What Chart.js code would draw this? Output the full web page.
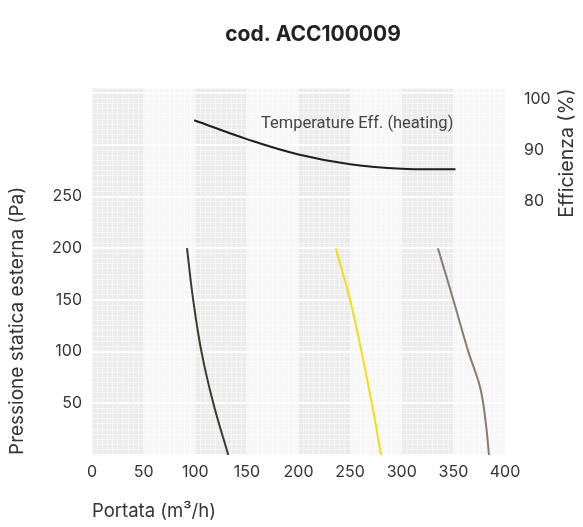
<!DOCTYPE html>
<html>
<head>
<meta charset="utf-8">
<script src="https://cdn.jsdelivr.net/npm/chart.js@4.4.1/dist/chart.umd.min.js"></script>
<style>
  html, body { margin: 0; padding: 0; background: #fff; }
  #wrap { width: 583px; height: 527px; }
</style>
</head>
<body>
<div id="wrap"><canvas id="myChart" width="583" height="527"></canvas></div>
<script>
// portata (m3/h) vs pressione (Pa) per le curve ventilatore
const flowLow = [92, 98, 106, 117.5, 132];
const pressLow = [200, 150, 100, 50, 0];
const flowMid = [236, 250, 261, 271, 280];
const pressMid = [200, 150, 100, 50, 0];
const flowHigh = [335, 350, 364.5, 376, 381.5, 384.5];
const pressHigh = [200, 150, 100, 65, 30, 0];
// efficienza termica (%)
const flowEff = [99, 150, 200, 250, 300, 352];
const effHeating = [95.9, 92.2, 89.2, 87.3, 86.4, 86.3];

const xLabels = [0, 50, 100, 150, 200, 250, 300, 350, 400];
const yLabels = [50, 100, 150, 200, 250];
const effLabels = [80, 90, 100];

const FONT = 'Inter, "Liberation Sans", Arial, sans-serif';

function pts(xs, ys) {
  return xs.map(function (x, i) { return { x: x, y: ys[i] }; });
}

// bande verticali grigie alternate sotto la griglia
const bands = {
  id: 'bands',
  beforeDraw: function (chart) {
    const ctx = chart.ctx, a = chart.chartArea, xs = chart.scales.x;
    ctx.save();
    for (let v = 0; v < 400; v += 50) {
      const l = xs.getPixelForValue(v), r = xs.getPixelForValue(v + 50);
      ctx.fillStyle = (v / 50) % 2 === 0 ? '#ebebeb' : '#f6f6f6';
      ctx.fillRect(l, a.top, r - l, a.bottom - a.top);
    }
    ctx.restore();
  }
};

// titolo, etichetta curva e titolo asse destro
const texts = {
  id: 'texts',
  afterDraw: function (chart) {
    const ctx = chart.ctx, xs = chart.scales.x, y2 = chart.scales.y2;
    ctx.save();
    ctx.fillStyle = '#222';
    ctx.font = 'bold 21px ' + FONT;
    ctx.textAlign = 'center';
    ctx.textBaseline = 'middle';
    ctx.fillText('cod. ACC100009', 313, 35);

    ctx.fillStyle = '#444';
    ctx.font = '16.5px Roboto, "Liberation Sans", sans-serif';
    ctx.textAlign = 'right';
    ctx.fillText('Temperature Eff. (heating)', xs.getPixelForValue(350), y2.getPixelForValue(95.1));

    ctx.fillStyle = '#333';
    ctx.font = '19.5px ' + FONT;
    ctx.translate(567, 153);
    ctx.rotate(-Math.PI / 2);
    ctx.textAlign = 'center';
    ctx.fillText('Efficienza (%)', 0, 0);
    ctx.restore();
  }
};

const ctx = document.getElementById('myChart');
const myChart = new Chart(ctx, {
  type: 'line',
  data: {
    datasets: [
      { data: pts(flowLow, pressLow), borderColor: '#3f3830', yAxisID: 'y' },
      { data: pts(flowMid, pressMid), borderColor: '#f0df12', yAxisID: 'y' },
      { data: pts(flowHigh, pressHigh), borderColor: '#8c7b68', yAxisID: 'y' },
      { data: pts(flowEff, effHeating), borderColor: '#1e1e1e', yAxisID: 'y2' }
    ]
  },
  options: {
    responsive: false,
    animation: false,
    layout: { padding: { top: 88, right: 0, left: 0, bottom: 0 } },
    elements: {
      point: { radius: 0 },
      line: { borderWidth: 2, tension: 0.4, fill: false }
    },
    plugins: {
      legend: { display: false },
      title: { display: false },
      tooltip: { enabled: false }
    },
    scales: {
      x: {
        type: 'linear',
        min: 0,
        max: 400,
        afterFit: function (s) { s.height = 72; },
        border: { display: false },
        grid: {
          color: 'rgba(255,255,255,0.5)',
          lineWidth: 1,
          drawTicks: false
        },
        ticks: {
          stepSize: 5,
          autoSkip: false,
          maxRotation: 0,
          padding: 8,
          color: '#333',
          font: { family: FONT, size: 16 },
          callback: function (v) { return xLabels.includes(v) ? String(v) : ''; }
        },
        title: {
          display: true,
          text: 'Portata (m³/h)',
          align: 'start',
          color: '#333',
          font: { family: FONT, size: 18.5 },
          padding: { top: 12 }
        }
      },
      y: {
        type: 'linear',
        position: 'left',
        min: 0,
        max: 355,
        afterFit: function (s) { s.width = 92; },
        border: { display: false },
        grid: {
          color: function (c) { return c.tick.value % 50 === 0 ? '#ffffff' : 'rgba(255,255,255,0.5)'; },
          lineWidth: function (c) { return c.tick.value % 50 === 0 ? 2 : 1; },
          drawTicks: false
        },
        ticks: {
          stepSize: 5,
          autoSkip: false,
          padding: 10,
          color: '#333',
          font: { family: FONT, size: 16 },
          callback: function (v) { return yLabels.includes(v) ? String(v) : ''; }
        },
        title: {
          display: true,
          text: 'Pressione statica esterna (Pa)',
          align: 'start',
          color: '#333',
          font: { family: FONT, size: 19 },
          padding: { top: 6, bottom: 0 }
        }
      },
      y2: {
        type: 'linear',
        position: 'right',
        min: 30.4,
        max: 102.2,
        afterFit: function (s) { s.width = 78; },
        afterBuildTicks: function (s) { s.ticks = effLabels.map(function (v) { return { value: v }; }); },
        border: { display: false },
        grid: { display: false },
        ticks: {
          padding: 11,
          color: '#333',
          font: { family: FONT, size: 16 }
        }
      }
    }
  },
  plugins: [bands, texts]
});
</script>
</body>
</html>
